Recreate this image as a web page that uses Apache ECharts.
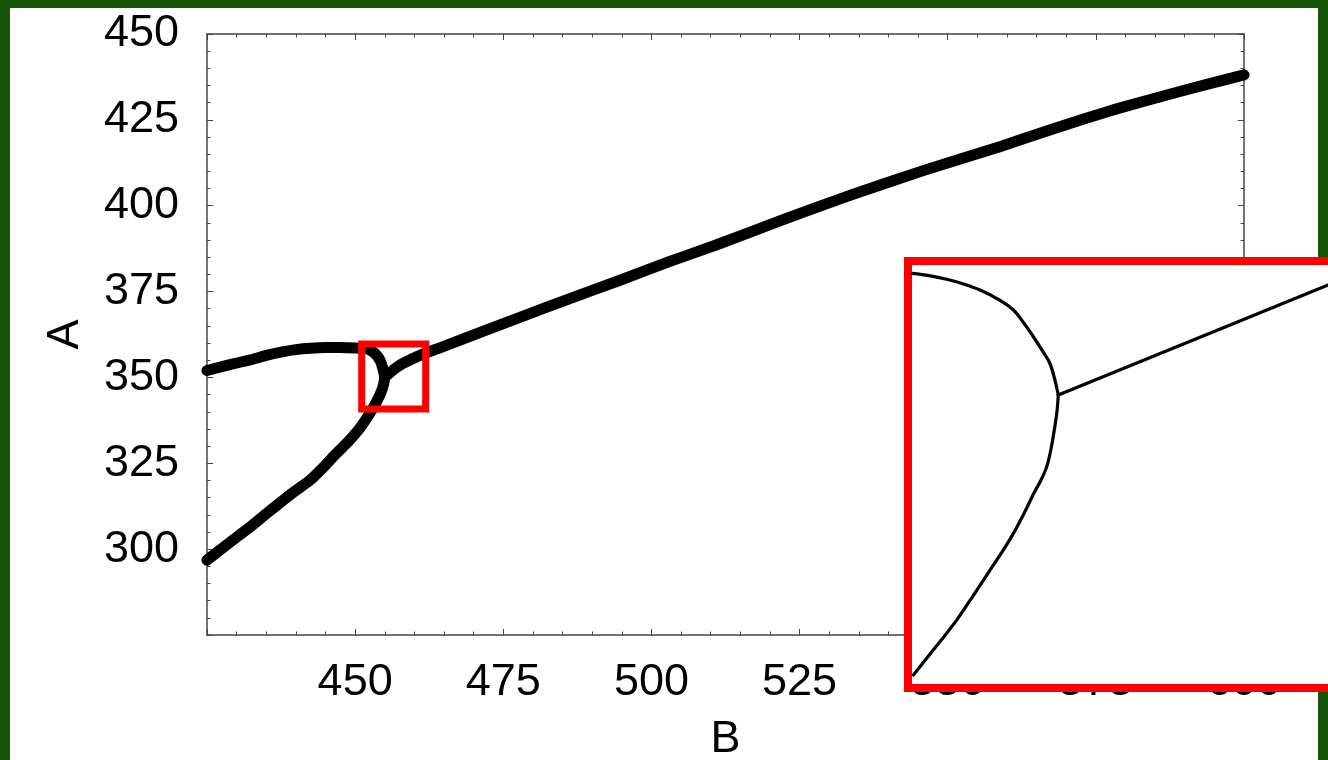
<!DOCTYPE html>
<html>
<head>
<meta charset="utf-8">
<script src="https://cdn.jsdelivr.net/npm/echarts@6/dist/echarts.min.js"></script>
<style>
html,body{margin:0;padding:0;background:#15560b;}
#c{width:1328px;height:760px;}
</style>
</head>
<body>
<div id="c"></div>
<script>
// ---- Data (B on x, A on y) ----
const upperB = [425.0, 428.5, 432.3, 435.0, 437.9, 440.0, 442.4, 445.0, 447.4, 450.0, 451.9, 452.9, 453.7, 454.3, 454.7, 455.0];
const upperA = [352.0, 353.6, 355.1, 356.4, 357.5, 358.1, 358.5, 358.7, 358.7, 358.6, 358.4, 357.6, 356.3, 354.6, 352.4, 350.1];

const lowerB = [425.0, 428.5, 432.3, 435.0, 437.9, 440.0, 442.4, 444.5, 446.3, 447.8, 449.1, 450.9, 452.5, 453.6, 454.4, 454.8, 455.0];
const lowerA = [296.8, 301.5, 306.5, 310.3, 314.3, 317.1, 320.1, 323.6, 326.9, 329.5, 331.8, 335.5, 339.6, 342.9, 345.8, 348.0, 350.1];

const mainB = [455.0, 456.5, 458.0, 461.4, 464.3, 470.0, 477.8, 486.0, 494.7, 503.0, 511.6, 522.0, 533.5, 546.0, 558.8, 568.0, 577.9, 589.0, 600.0];
const mainA = [350.1, 352.3, 354.0, 356.8, 358.6, 362.4, 367.5, 372.8, 378.3, 383.7, 389.0, 395.8, 403.0, 410.3, 417.2, 422.5, 427.9, 433.2, 438.1];

// zoomed region marked by the red box (B range, A range)
const boxB = [451.1, 461.9];
const boxA = [340.8, 359.7];

// inset (zoomed view) curves
const insetUpperB = [451.11, 451.55, 452.01, 452.45, 452.88, 453.33, 453.75, 454.03, 454.27, 454.50, 454.70, 454.83, 454.92];
const insetUpperA = [359.45, 359.35, 359.19, 358.98, 358.71, 358.32, 357.82, 357.22, 356.63, 356.02, 355.45, 354.72, 354.04];
const insetLowerB = [454.92, 454.89, 454.83, 454.74, 454.62, 454.46, 454.27, 454.03, 453.75, 453.46, 453.14, 452.72, 452.27, 451.72, 451.14];
const insetLowerA = [354.04, 353.35, 352.63, 351.72, 350.85, 350.22, 349.62, 348.78, 347.88, 347.07, 346.25, 345.16, 344.02, 342.82, 341.58];
const insetLineB = [454.92, 458.97, 461.96, 463.0];
const insetLineA = [354.04, 356.85, 358.93, 359.66];
const insetRangeB = [451, 463];
const insetRangeA = [341, 360];

// axis ticks
const xTicks = {min: 425, max: 600, interval: 25};
const yTicks = {min: 275, max: 450, interval: 25};

const zip = (xs, ys) => xs.map((x, i) => [x, ys[i]]);

const font = "'Liberation Sans', Arial, Helvetica, sans-serif";
const frameColor = '#444';

function frameAxis(extra) {
  return Object.assign({
    type: 'value',
    gridIndex: 0,
    axisLine: {show: true, onZero: false, lineStyle: {color: frameColor, width: 1.5}},
    axisTick: {show: true, inside: true, length: 6, lineStyle: {color: frameColor, width: 1}},
    minorTick: {show: true, splitNumber: 5, length: 3.5, lineStyle: {color: frameColor, width: 1}},
    splitLine: {show: false},
    minorSplitLine: {show: false}
  }, extra);
}

const chart = echarts.init(document.getElementById('c'), null, {renderer: 'canvas'});

const mainLine = {width: 11, color: '#000', cap: 'round', join: 'round'};
const insetLine = {width: 3.2, color: '#000', cap: 'round', join: 'round'};

chart.setOption({
  backgroundColor: '#15560b',
  animation: false,
  graphic: [{
    type: 'rect', z: -100, silent: true,
    shape: {x: 10, y: 8, width: 1308, height: 760},
    style: {fill: '#ffffff'}
  }],
  grid: [
    {left: 207, top: 34, width: 1037, height: 601, containLabel: false, outerBoundsMode: 'none'},
    {left: 908, top: 261, width: 460, height: 427, show: true, z: 10, containLabel: false, outerBoundsMode: 'none',
     backgroundColor: '#ffffff', borderColor: '#ff0000', borderWidth: 8}
  ],
  xAxis: [
    frameAxis({min: xTicks.min, max: xTicks.max, interval: xTicks.interval, position: 'bottom',
      name: 'B', nameLocation: 'middle', nameGap: 82,
      nameTextStyle: {fontFamily: font, fontSize: 45, color: '#000'},
      axisLabel: {show: true, showMinLabel: false, margin: 25, fontFamily: font, fontSize: 45, color: '#000'}}),
    frameAxis({min: xTicks.min, max: xTicks.max, interval: xTicks.interval, position: 'top',
      axisLabel: {show: false}}),
    {type: 'value', gridIndex: 1, min: insetRangeB[0], max: insetRangeB[1], show: false}
  ],
  yAxis: [
    frameAxis({min: yTicks.min, max: yTicks.max, interval: yTicks.interval, position: 'left',
      name: 'A', nameLocation: 'middle', nameGap: 119, nameRotate: 90,
      nameTextStyle: {fontFamily: font, fontSize: 45, color: '#000'},
      axisLabel: {show: true, showMinLabel: false, margin: 28, fontFamily: font, fontSize: 45, color: '#000'}}),
    frameAxis({min: yTicks.min, max: yTicks.max, interval: yTicks.interval, position: 'right',
      axisLabel: {show: false}}),
    {type: 'value', gridIndex: 1, min: insetRangeA[0], max: insetRangeA[1], show: false}
  ],
  series: [
    {type: 'line', xAxisIndex: 0, yAxisIndex: 0, data: zip(upperB, upperA), showSymbol: false,
     smooth: 0.15, lineStyle: mainLine, z: 3},
    {type: 'line', xAxisIndex: 0, yAxisIndex: 0, data: zip(lowerB, lowerA), showSymbol: false,
     smooth: 0.15, lineStyle: mainLine, z: 3},
    {type: 'line', xAxisIndex: 0, yAxisIndex: 0, data: zip(mainB, mainA), showSymbol: false,
     smooth: 0.15, lineStyle: mainLine, z: 3,
     markArea: {silent: true, z: 4,
       itemStyle: {color: 'rgba(0,0,0,0)', borderColor: '#ff0000', borderWidth: 7},
       data: [[{coord: [boxB[0], boxA[1]]}, {coord: [boxB[1], boxA[0]]}]]}},
    {type: 'line', xAxisIndex: 2, yAxisIndex: 2, data: zip(insetUpperB, insetUpperA), showSymbol: false,
     smooth: 0.35, lineStyle: insetLine, z: 12},
    {type: 'line', xAxisIndex: 2, yAxisIndex: 2, data: zip(insetLowerB, insetLowerA), showSymbol: false,
     smooth: 0.35, lineStyle: insetLine, z: 12},
    {type: 'line', xAxisIndex: 2, yAxisIndex: 2, data: zip(insetLineB, insetLineA), showSymbol: false,
     smooth: 0, lineStyle: insetLine, z: 12}
  ]
});
</script>
</body>
</html>
